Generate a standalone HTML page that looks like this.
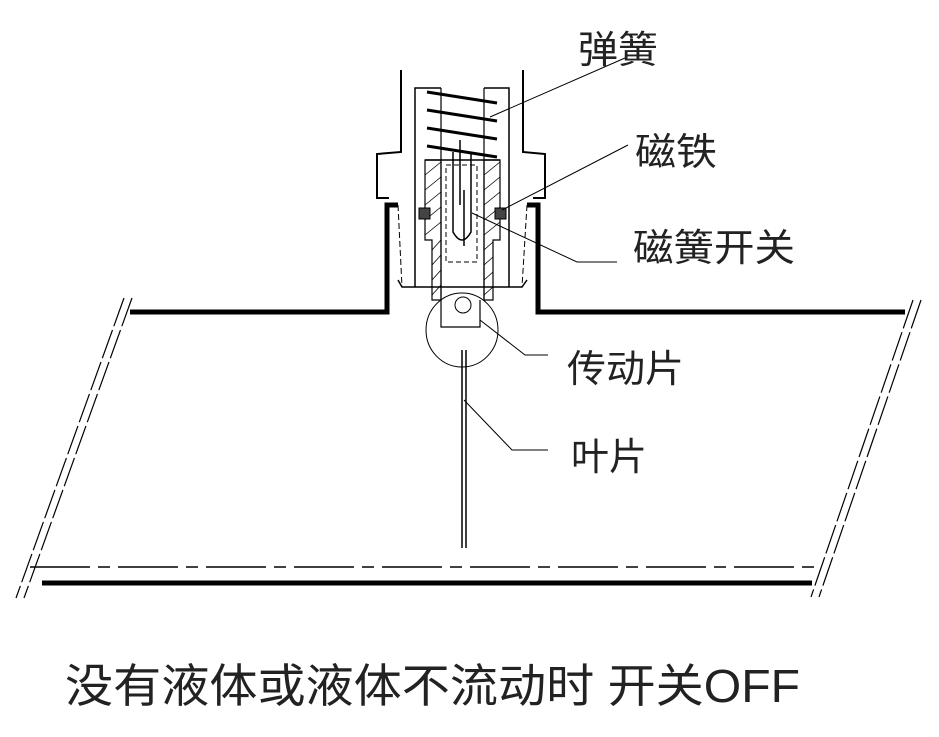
<!DOCTYPE html>
<html><head><meta charset="utf-8"><style>
body{margin:0;background:#fff;width:939px;height:732px;overflow:hidden}
text{font-family:"Liberation Sans","Noto Sans CJK SC",sans-serif;fill:#222}
</style></head><body>
<svg width="939" height="732" viewBox="0 0 939 732" xmlns="http://www.w3.org/2000/svg">
<g fill="none" stroke="#000">
<polyline points="130,312 387,312 387,205 398,205" stroke-width="5"/>
<polyline points="905,312 538,312 538,205 527,205" stroke-width="5"/>
<line x1="42" y1="583" x2="812" y2="583" stroke-width="5"/>
<line x1="30" y1="567" x2="815" y2="567" stroke-width="1.5" stroke-dasharray="60,8,12,8"/>
<line x1="132" y1="298" x2="24" y2="598" stroke-width="1.2" stroke-dasharray="30,4"/>
<line x1="124" y1="298" x2="16" y2="598" stroke-width="1.2" stroke-dasharray="30,4"/>
<line x1="921" y1="300" x2="819" y2="597" stroke-width="1.2" stroke-dasharray="30,4"/>
<line x1="913" y1="300" x2="811" y2="597" stroke-width="1.2" stroke-dasharray="30,4"/>
<polyline points="401,70 401,152 377,154 377,198 389,198" stroke-width="2"/>
<polyline points="523,70 523,152 545,154 545,198 533,198" stroke-width="2"/>
<line x1="398" y1="205" x2="402" y2="287" stroke-width="1" stroke-dasharray="6,3"/>
<line x1="527" y1="205" x2="522" y2="287" stroke-width="1" stroke-dasharray="6,3"/>
<polyline points="398,280 402,287 522,287 527,280" stroke-width="1.5"/>
<polyline points="415,287 415,88 441,88" stroke-width="1.5"/>
<polyline points="509,287 509,88 484,88" stroke-width="1.5"/>
<line x1="441" y1="88" x2="441" y2="300" stroke-width="1.2"/>
<line x1="484" y1="88" x2="484" y2="300" stroke-width="1.2"/>
<line x1="427" y1="92" x2="497" y2="103" stroke-width="3"/>
<line x1="427" y1="110" x2="497" y2="121" stroke-width="3"/>
<line x1="427" y1="128" x2="497" y2="139" stroke-width="3"/>
<line x1="427" y1="146" x2="497" y2="157" stroke-width="3"/>
<line x1="425" y1="160" x2="500" y2="160" stroke-width="1.5"/>
<polygon points="425,160 441,160 441,300 432,300 432,240 425,240" stroke-width="1.2"/>
<polygon points="484,160 500,160 500,240 493,240 493,300 484,300" stroke-width="1.2"/>
<g stroke-width="0.8">
<line x1="425" y1="175" x2="441" y2="162"/><line x1="425" y1="190" x2="441" y2="177"/><line x1="425" y1="205" x2="441" y2="192"/><line x1="425" y1="220" x2="441" y2="207"/><line x1="425" y1="235" x2="441" y2="222"/><line x1="432" y1="250" x2="441" y2="240"/><line x1="432" y1="265" x2="441" y2="255"/><line x1="432" y1="280" x2="441" y2="270"/><line x1="432" y1="295" x2="441" y2="285"/>
<line x1="484" y1="175" x2="500" y2="162"/><line x1="484" y1="190" x2="500" y2="177"/><line x1="484" y1="205" x2="500" y2="192"/><line x1="484" y1="220" x2="500" y2="207"/><line x1="484" y1="235" x2="500" y2="222"/><line x1="484" y1="250" x2="493" y2="242"/><line x1="484" y1="265" x2="493" y2="257"/><line x1="484" y1="280" x2="493" y2="272"/><line x1="484" y1="295" x2="493" y2="287"/>
</g>
<rect x="419" y="208" width="11" height="11" fill="#444" stroke-width="1"/>
<rect x="495" y="208" width="11" height="11" fill="#444" stroke-width="1"/>
<rect x="446" y="165" width="31" height="97" stroke-width="1" stroke-dasharray="5,3"/>
<path d="M453,152 L453,232 Q462,248 471,232 L471,152" stroke-width="1.5"/>
<line x1="460" y1="140" x2="460" y2="205" stroke-width="1.5"/>
<line x1="464" y1="190" x2="464" y2="246" stroke-width="1.5"/>
<polyline points="441,300 441,327 480,327 480,300" stroke-width="1.2"/>
<circle cx="463" cy="305" r="8" stroke-width="1"/>
<ellipse cx="462" cy="330" rx="36" ry="37" stroke-width="1"/>
<line x1="462" y1="350" x2="462" y2="548" stroke-width="1.5"/>
<line x1="466" y1="350" x2="466" y2="548" stroke-width="1.5"/>
<g stroke-width="1">
<line x1="490" y1="117" x2="625" y2="58"/>
<line x1="502" y1="210" x2="628" y2="145"/>
<polyline points="472,213 577,262 617,262"/>
<polyline points="480,320 525,355 548,355"/>
<polyline points="464,400 512,450 548,450"/>
</g>
</g>
<g font-size="38">
<text x="578" y="63" textLength="80" lengthAdjust="spacingAndGlyphs">弹簧</text>
<text x="635" y="165" textLength="82" lengthAdjust="spacingAndGlyphs">磁铁</text>
<text x="633" y="261" textLength="162" lengthAdjust="spacingAndGlyphs">磁簧开关</text>
<text x="567" y="382" textLength="117" lengthAdjust="spacingAndGlyphs">传动片</text>
<text x="571" y="470" textLength="76" lengthAdjust="spacingAndGlyphs">叶片</text>
</g>
<text x="65" y="702" font-size="46" textLength="735" lengthAdjust="spacingAndGlyphs">没有液体或液体不流动时 开关OFF</text>
</svg>
</body></html>
